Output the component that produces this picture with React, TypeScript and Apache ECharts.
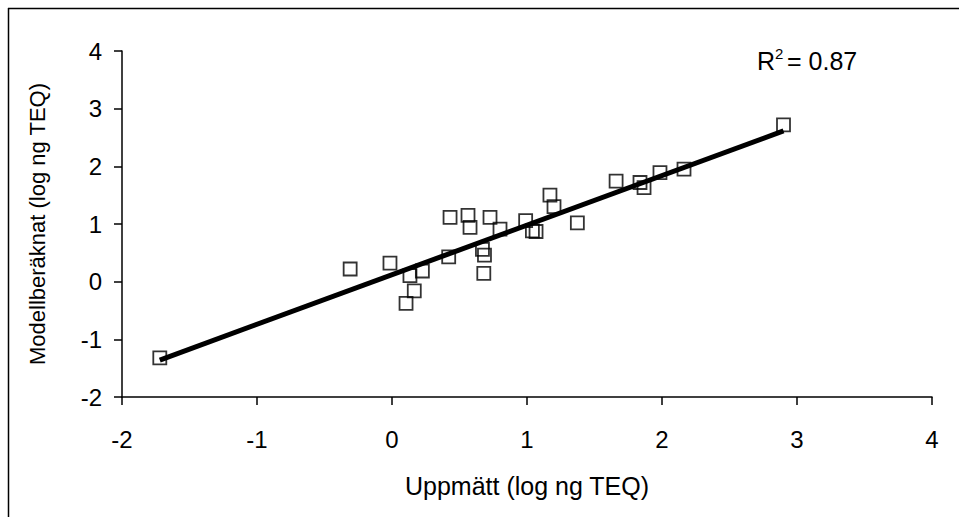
import React, { useEffect, useRef } from "react";
import * as echarts from "echarts";

const measured: number[] = [-1.72, -0.31, -0.015, 0.104, 0.133, 0.165, 0.225, 0.42, 0.43, 0.563, 0.578, 0.67, 0.68, 0.685, 0.726, 0.8, 0.99, 1.04, 1.067, 1.17, 1.2, 1.373, 1.66, 1.837, 1.867, 1.985, 2.163, 2.9];
const modelled: number[] = [-1.32, 0.22, 0.32, -0.375, 0.104, -0.16, 0.185, 0.43, 1.116, 1.15, 0.94, 0.56, 0.145, 0.46, 1.116, 0.91, 1.06, 0.88, 0.87, 1.5, 1.3, 1.02, 1.745, 1.72, 1.63, 1.89, 1.95, 2.72];
// Trend line: y = slope * x + intercept
const trendSlope = 0.86;
const trendIntercept = 0.12;
const xTicks = { min: -2, max: 4, step: 1 };
const yTicks = { min: -2, max: 4, step: 1 };
const rSquaredLabel = "0.87";
const xTitle = "Uppmätt (log ng TEQ)";
const yTitle = "Modellberäknat (log ng TEQ)";

const FONT = 'Arial, "Liberation Sans", sans-serif';
const FS = 24;
const FS_TITLE = 25;
const FS_V = 22;

export default function App() {
  const ref = useRef<HTMLDivElement>(null);
  useEffect(() => {
    if (!ref.current) return;
    const chart = echarts.init(ref.current, undefined, { renderer: "svg" });
    const xmin = Math.min(...measured);
    const xmax = Math.max(...measured);
    const axisCommon = {
      type: "value" as const,
      nameLocation: "middle" as const,
      axisLine: { show: true, onZero: false, lineStyle: { color: "#000", width: 1.5 } },
      axisTick: { show: true, inside: false, length: 8, lineStyle: { color: "#000", width: 1.5 } },
      splitLine: { show: false },
    };
    chart.setOption({
      animation: false,
      backgroundColor: "#fff",
      grid: { left: 122, top: 51, right: 27, bottom: 120, containLabel: false },
      xAxis: {
        ...axisCommon,
        min: xTicks.min,
        max: xTicks.max,
        interval: xTicks.step,
        name: xTitle,
        nameGap: 76,
        nameTextStyle: { fontSize: FS_TITLE, color: "#000", fontFamily: FONT },
        axisLabel: { fontSize: FS, color: "#000", fontFamily: FONT, margin: 30 },
      },
      yAxis: {
        ...axisCommon,
        min: yTicks.min,
        max: yTicks.max,
        interval: yTicks.step,
        name: yTitle,
        nameGap: 74,
        nameTextStyle: { fontSize: FS_V, color: "#000", fontFamily: FONT },
        axisLabel: { fontSize: FS, color: "#000", fontFamily: FONT, margin: 20 },
      },
      series: [
        {
          type: "scatter",
          data: measured.map((x, i) => [x, modelled[i]]),
          symbol: "rect",
          symbolSize: 13,
          itemStyle: { color: "rgba(0,0,0,0)", borderColor: "#000", borderWidth: 1.8 },
          z: 2,
        },
        {
          type: "line",
          data: [
            [xmin, trendIntercept + trendSlope * xmin],
            [xmax, trendIntercept + trendSlope * xmax],
          ],
          symbol: "none",
          lineStyle: { color: "#000", width: 5 },
          z: 3,
        },
      ],
      graphic: [
        { type: "line", shape: { x1: 8, y1: 8.5, x2: 1000, y2: 8.5 }, style: { stroke: "#000", lineWidth: 1.5 } },
        { type: "line", shape: { x1: 8.5, y1: 8, x2: 8.5, y2: 1000 }, style: { stroke: "#000", lineWidth: 1.5 } },
        { type: "text", x: 757, y: 61, style: { text: "R", fontSize: FS_TITLE, fontFamily: FONT, fill: "#000", verticalAlign: "middle" } },
        { type: "text", x: 775, y: 53, style: { text: "2", fontSize: 15, fontFamily: FONT, fill: "#000", verticalAlign: "middle" } },
        { type: "text", x: 787, y: 61, style: { text: "= " + rSquaredLabel, fontSize: FS_TITLE, fontFamily: FONT, fill: "#000", verticalAlign: "middle" } },
      ],
    });
    return () => chart.dispose();
  }, []);
  return <div ref={ref} style={{ position: "fixed", left: 0, top: 0, width: 959, height: 517 }} />;
}
